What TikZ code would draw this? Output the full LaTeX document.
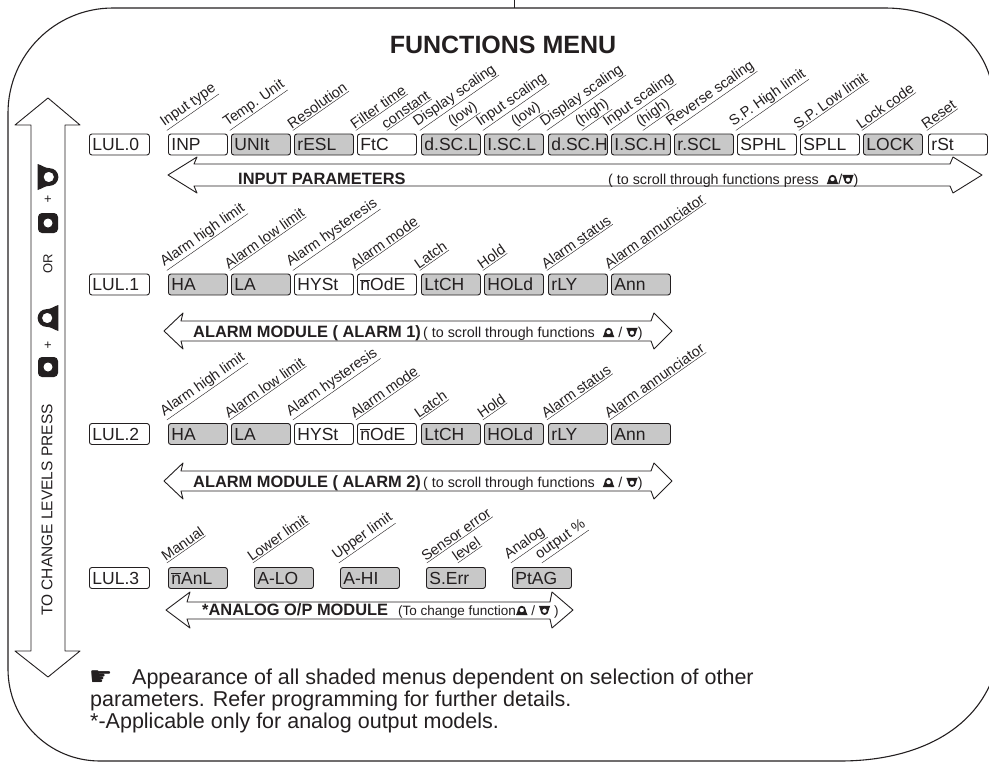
\documentclass[tikz,border=0pt]{standalone}
\usepackage{fontspec}
\setmainfont{Liberation Sans}
\newfontfamily\segfont{Liberation Sans}
\newfontfamily\symfont{DejaVu Sans}
\definecolor{ink}{HTML}{231F20}
\definecolor{shade}{HTML}{C8C8C8}
\newcommand{\upkey}[1][1]{\tikz[baseline=0pt,x=#1pt,y=#1pt]{\fill[ink,even odd rule] (0,0) to[out=75,in=-90] (1.6,4.6) arc[start angle=180,end angle=0,radius=3.4] to[out=-90,in=105] (10,0) -- cycle (5,4.3) circle[radius=2];}}
\newcommand{\downkey}[1][1]{\tikz[baseline=0pt,x=#1pt,y=#1pt]{\fill[ink,even odd rule] (0,8) to[out=-75,in=90] (1.6,3.4) arc[start angle=180,end angle=360,radius=3.4] to[out=90,in=-105] (10,8) -- cycle (5,3.7) circle[radius=2];}}
\newcommand{\segm}{\ensuremath{\overline{\mbox{n}}}}
\begin{document}
\begin{tikzpicture}[x=1pt,y=-1pt,line join=round,
    seg/.style={draw=ink,line width=0.9pt,rounded corners=2.5pt,fill=white,minimum height=21pt,text width=53pt,inner xsep=3pt,inner ysep=0pt,align=left,anchor=west,font=\segfont\fontsize{17.5}{17.5}\selectfont,text=ink},
    segs/.style={seg,fill=shade},
    lvl/.style={seg,text width=54pt},
    lbl/.style={rotate=35,anchor=south west,inner sep=0.6pt,font=\fontsize{14.5}{15}\selectfont,text=ink},
    arrow/.style={draw=ink,line width=0.9pt,fill=white},
    btxt/.style={anchor=base west,inner sep=0pt,font=\bfseries\fontsize{16.4}{16.4}\selectfont,text=ink},
    stxt/.style={anchor=base west,inner sep=0pt,font=\fontsize{14.3}{14.3}\selectfont,text=ink},
    ntxt/.style={anchor=base west,inner sep=0pt,font=\fontsize{21.5}{22}\selectfont,text=ink}]
    \useasboundingbox (0,0) rectangle (989,763);
    % frame
    \draw[ink,line width=1.1pt] (113,8) -- (885,8) .. controls (940,8) and (982,38) .. (992,85) -- (992,680) .. controls (970,735) and (910,761) .. (840,761) -- (100,761) .. controls (49,761) and (8,720) .. (8,669) -- (8,113) .. controls (8,55) and (55,8) .. (113,8) -- cycle;
    \draw[ink,line width=1pt] (514,0) -- (514,8);
    \node[font=\bfseries\fontsize{25}{25}\selectfont,text=ink,anchor=base] (title) at (503,53) {FUNCTIONS MENU};
    % level arrow
    \draw[arrow] (48,98) -- (80,125) -- (65,125) -- (65,651) -- (80,651) -- (48,677) -- (15,651) -- (31,651) -- (31,125) -- (15,125) -- cycle;
    \node[rotate=90,inner sep=0pt] (kdown) at (48,177) {\downkey[2.6]};
    \node[font=\fontsize{13}{13}\selectfont,text=ink] (plus1) at (48,200) {+};
    \fill[ink,rounded corners=4pt] (38,213) rectangle (58,233);
    \fill[white] (48,223) circle[radius=4.5pt];
    \node[rotate=90,font=\fontsize{13}{13}\selectfont,text=ink] (or) at (48,264) {OR};
    \node[rotate=90,inner sep=0pt] (kup) at (48,318) {\upkey[2.6]};
    \node[font=\fontsize{13}{13}\selectfont,text=ink] (plus2) at (48,346) {+};
    \fill[ink,rounded corners=4pt] (38,357) rectangle (58,377);
    \fill[white] (48,367) circle[radius=4.5pt];
    \node[rotate=90,font=\fontsize{15.5}{15.5}\selectfont,text=ink] (press) at (47,510) {TO CHANGE LEVELS PRESS};
    % row arrows
    \draw[arrow] (168,175) -- (197,157) -- (194,164) -- (950,164) -- (953,157) -- (982,175) -- (953,193) -- (950,186) -- (194,186) -- (197,193) -- cycle;
    \draw[arrow] (164,331) -- (183,313) -- (181,321) -- (651,321) -- (654,313) -- (672,331) -- (654,349) -- (651,341) -- (181,341) -- (183,349) -- cycle;
    \draw[arrow] (164,481) -- (183,463) -- (181,471) -- (651,471) -- (654,463) -- (672,481) -- (654,499) -- (651,491) -- (181,491) -- (183,499) -- cycle;
    \draw[arrow] (166,610) -- (190,592) -- (187,602) -- (550,602) -- (552,592) -- (573,610) -- (552,628) -- (550,619) -- (187,619) -- (190,628) -- cycle;
    \node[btxt] (inpar) at (238,184) {INPUT PARAMETERS};
    \node[stxt] (scr0) at (608,184) {( to scroll through functions press\ \ \upkey[1.15]/\downkey[1.15])};
    \node[btxt] (alm1) at (193,337) {ALARM MODULE ( ALARM 1)};
    \node[stxt] (scr1) at (423,337) {( to scroll through functions\ \ \upkey[1.15]\ /\ \downkey[1.15])};
    \node[btxt] (alm2) at (193,487) {ALARM MODULE ( ALARM 2)};
    \node[stxt] (scr2) at (423,487) {( to scroll through functions\ \ \upkey[1.15]\ /\ \downkey[1.15])};
    \node[btxt] (aop) at (202,615) {*ANALOG O/P MODULE};
    \node[stxt,font=\fontsize{13.5}{14}\selectfont] (scr3) at (398,615) {(To change function\upkey[1.15]\ /\ \downkey[1.15]\ )};
    % level 0
    \node[lvl] (lvl0) at (89,144.5) {LUL.0};
    \node[seg] (inp) at (168,144.5) {INP};
    \node[segs] (unit) at (231,144.5) {UNIt};
    \node[segs] (resl) at (294,144.5) {rESL};
    \node[seg] (ftc) at (357,144.5) {FtC};
    \node[segs] (dscl) at (421,144.5) {d.SC.L};
    \node[segs] (iscl) at (484,144.5) {I.SC.L};
    \node[segs] (dsch) at (548,144.5) {d.SC.H};
    \node[segs] (isch) at (611,144.5) {I.SC.H};
    \node[segs] (rscl) at (674,144.5) {r.SCL};
    \node[seg] (sphl) at (737,144.5) {SPHL};
    \node[seg] (spll) at (800,144.5) {SPLL};
    \node[segs] (lock) at (863,144.5) {LOCK};
    \node[seg] (rst) at (928,144.5) {rSt};
    \node[lbl] (l-inp) at ([xshift=-1pt,yshift=1.5pt]inp.north west) {\underline{Input type}};
    \node[lbl] (l-unit) at ([xshift=-1pt,yshift=1.5pt]unit.north west) {\underline{Temp. Unit}};
    \node[lbl] (l-resl) at ([xshift=-1pt,yshift=1.5pt]resl.north west) {\underline{Resolution}};
    \node[lbl] (l-ftc) at ([xshift=-1pt,yshift=1.5pt]ftc.north west) {\underline{Filter time}};
    \node[lbl] (l-ftc2) at ([xshift=30pt,yshift=1.5pt]ftc.north west) {\underline{constant}};
    \node[lbl] (l-dscl) at ([xshift=-1pt,yshift=1.5pt]dscl.north west) {\underline{Display scaling}};
    \node[lbl] (l-dscl2) at ([xshift=34pt,yshift=1.5pt]dscl.north west) {\underline{(low)}};
    \node[lbl] (l-iscl) at ([xshift=-1pt,yshift=1.5pt]iscl.north west) {\underline{Input scaling}};
    \node[lbl] (l-iscl2) at ([xshift=34pt,yshift=1.5pt]iscl.north west) {\underline{(low)}};
    \node[lbl] (l-dsch) at ([xshift=-1pt,yshift=1.5pt]dsch.north west) {\underline{Display scaling}};
    \node[lbl] (l-dsch2) at ([xshift=34pt,yshift=1.5pt]dsch.north west) {\underline{(high)}};
    \node[lbl] (l-isch) at ([xshift=-1pt,yshift=1.5pt]isch.north west) {\underline{Input scaling}};
    \node[lbl] (l-isch2) at ([xshift=32pt,yshift=1.5pt]isch.north west) {\underline{(high)}};
    \node[lbl] (l-rscl) at ([xshift=-1pt,yshift=1.5pt]rscl.north west) {\underline{Reverse scaling}};
    \node[lbl] (l-sphl) at ([xshift=-1pt,yshift=1.5pt]sphl.north west) {\underline{S.P. High limit}};
    \node[lbl] (l-spll) at ([xshift=-1pt,yshift=1.5pt]spll.north west) {\underline{S.P. Low limit}};
    \node[lbl] (l-lock) at ([xshift=-1pt,yshift=1.5pt]lock.north west) {\underline{Lock code}};
    \node[lbl] (l-rst) at ([xshift=-1pt,yshift=1.5pt]rst.north west) {\underline{Reset}};
    % level 1
    \node[lvl] (lvl1) at (89,284.5) {LUL.1};
    \node[segs] (ha1) at (168,284.5) {HA};
    \node[segs] (la1) at (231,284.5) {LA};
    \node[seg] (hyst1) at (294,284.5) {HYSt};
    \node[seg] (mode1) at (357,284.5) {\segm OdE};
    \node[segs] (ltch1) at (421,284.5) {LtCH};
    \node[segs] (hold1) at (484,284.5) {HOLd};
    \node[segs] (rly1) at (548,284.5) {rLY};
    \node[segs] (ann1) at (611,284.5) {Ann};
    \node[lbl] (l-ha1) at ([xshift=-1pt,yshift=1.5pt]ha1.north west) {\underline{Alarm high limit}};
    \node[lbl] (l-la1) at ([xshift=-1pt,yshift=1.5pt]la1.north west) {\underline{Alarm low limit}};
    \node[lbl] (l-hyst1) at ([xshift=-1pt,yshift=1.5pt]hyst1.north west) {\underline{Alarm hysteresis}};
    \node[lbl] (l-mode1) at ([xshift=-1pt,yshift=1.5pt]mode1.north west) {\underline{Alarm mode}};
    \node[lbl] (l-ltch1) at ([xshift=-1pt,yshift=1.5pt]ltch1.north west) {\underline{Latch}};
    \node[lbl] (l-hold1) at ([xshift=-1pt,yshift=1.5pt]hold1.north west) {\underline{Hold}};
    \node[lbl] (l-rly1) at ([xshift=-1pt,yshift=1.5pt]rly1.north west) {\underline{Alarm status}};
    \node[lbl] (l-ann1) at ([xshift=-1pt,yshift=1.5pt]ann1.north west) {\underline{Alarm annunciator}};
    % level 2
    \node[lvl] (lvl2) at (89,434) {LUL.2};
    \node[segs] (ha2) at (168,434) {HA};
    \node[segs] (la2) at (231,434) {LA};
    \node[seg] (hyst2) at (294,434) {HYSt};
    \node[seg] (mode2) at (357,434) {\segm OdE};
    \node[segs] (ltch2) at (421,434) {LtCH};
    \node[segs] (hold2) at (484,434) {HOLd};
    \node[segs] (rly2) at (548,434) {rLY};
    \node[segs] (ann2) at (611,434) {Ann};
    \node[lbl] (l-ha2) at ([xshift=-1pt,yshift=1.5pt]ha2.north west) {\underline{Alarm high limit}};
    \node[lbl] (l-la2) at ([xshift=-1pt,yshift=1.5pt]la2.north west) {\underline{Alarm low limit}};
    \node[lbl] (l-hyst2) at ([xshift=-1pt,yshift=1.5pt]hyst2.north west) {\underline{Alarm hysteresis}};
    \node[lbl] (l-mode2) at ([xshift=-1pt,yshift=1.5pt]mode2.north west) {\underline{Alarm mode}};
    \node[lbl] (l-ltch2) at ([xshift=-1pt,yshift=1.5pt]ltch2.north west) {\underline{Latch}};
    \node[lbl] (l-hold2) at ([xshift=-1pt,yshift=1.5pt]hold2.north west) {\underline{Hold}};
    \node[lbl] (l-rly2) at ([xshift=-1pt,yshift=1.5pt]rly2.north west) {\underline{Alarm status}};
    \node[lbl] (l-ann2) at ([xshift=-1pt,yshift=1.5pt]ann2.north west) {\underline{Alarm annunciator}};
    % level 3
    \node[lvl] (lvl3) at (89,578) {LUL.3};
    \node[segs] (manl) at (168,578) {\segm AnL};
    \node[segs] (alo) at (254,578) {A-LO};
    \node[segs] (ahi) at (340,578) {A-HI};
    \node[segs] (serr) at (426,578) {S.Err};
    \node[segs] (ptag) at (512,578) {PtAG};
    \node[lbl] (l-manl) at ([xshift=-1pt,yshift=2.5pt]manl.north west) {\underline{Manual}};
    \node[lbl] (l-alo) at ([xshift=-1pt,yshift=2.5pt]alo.north west) {\underline{Lower limit}};
    \node[lbl] (l-ahi) at ([xshift=-1pt,yshift=2.5pt]ahi.north west) {\underline{Upper limit}};
    \node[lbl] (l-serr) at ([xshift=1pt,yshift=2.5pt]serr.north west) {\underline{Sensor error}};
    \node[lbl] (l-serr2) at ([xshift=32pt,yshift=2.5pt]serr.north west) {\underline{level}};
    \node[lbl] (l-ptag) at ([xshift=-1pt,yshift=2.5pt]ptag.north west) {\underline{Analog}};
    \node[lbl] (l-ptag2) at ([xshift=30pt,yshift=2.5pt]ptag.north west) {\underline{output \%}};
    % notes
    \node[anchor=base west,inner sep=0pt,font=\symfont\fontsize{26}{26}\selectfont,text=ink] (hand) at (89,685) {☛};
    \node[ntxt] (note1) at (132,684) {Appearance of all shaded menus dependent on selection of other};
    \node[ntxt] (note2) at (90,706) {parameters. Refer programming for further details.};
    \node[ntxt] (note3) at (90,728) {*-Applicable only for analog output models.};
\end{tikzpicture}
\end{document}
